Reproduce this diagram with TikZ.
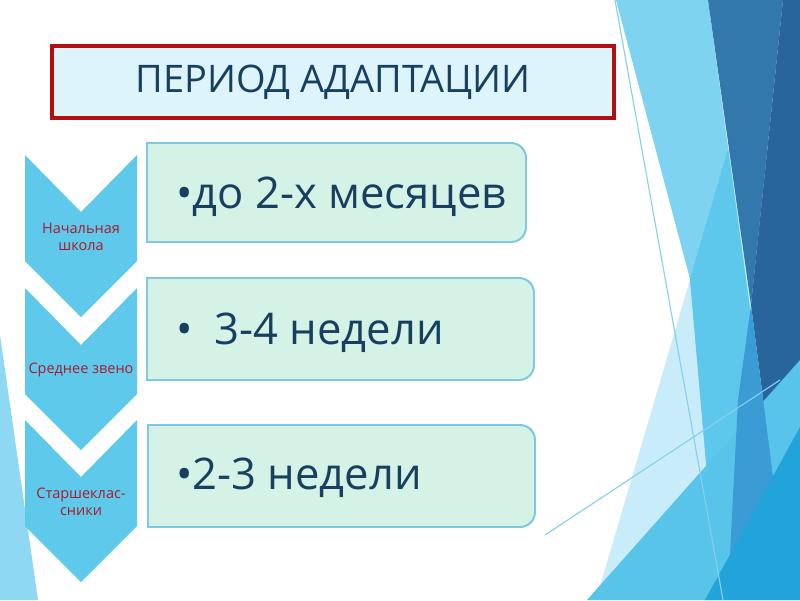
\documentclass[tikz,border=0pt]{standalone}
\usepackage{fontspec}
\setmainfont{Open Sans}
\usetikzlibrary{positioning}

\definecolor{chevblue}{HTML}{5FC9EC}
\definecolor{gradered}{HTML}{A81C2C}
\definecolor{navy}{HTML}{173F5F}
\definecolor{boxline}{HTML}{7FC8E2}
\definecolor{boxfill}{HTML}{D5F2E7}
\definecolor{titlefill}{HTML}{DDF4FB}
\definecolor{titleline}{HTML}{B30F12}
\definecolor{bgpale}{HTML}{C8ECF9}
\definecolor{bglight}{HTML}{7DD3F0}
\definecolor{bgmid}{HTML}{5EC7EC}
\definecolor{bgsteel}{HTML}{3378AA}
\definecolor{bgdark}{HTML}{27659A}
\definecolor{bgsky}{HTML}{58C4EA}
\definecolor{bgdeep}{HTML}{22A3DA}
\definecolor{bgcobalt}{HTML}{3B9BD4}
\definecolor{bgline}{HTML}{86D0EC}
\definecolor{bgleft}{HTML}{8FD8F3}

\tikzset{
    chevron/.style={fill=chevblue},
    grade/.style={text=gradered, font=\fontsize{10.3}{11.8}\selectfont, align=center, inner sep=0pt},
    stagebox/.style={draw=boxline, fill=boxfill, line width=1.4pt},
    stagetext/.style={text=navy, font=\fontsize{31}{34}\selectfont, inner sep=0pt},
    titlebox/.style={draw=titleline, fill=titlefill, line width=2.8pt, minimum width=14.05cm, minimum height=1.8cm, inner sep=0pt},
    titletext/.style={text=navy, font=\fontsize{27}{31}\selectfont, inner sep=0pt},
    facetline/.style={draw=bgline, line width=0.8pt}
}

\begin{document}
\begin{tikzpicture}[x=0.025cm, y=-0.025cm]
    \useasboundingbox (0,0) rectangle (800,600);
    \fill[white] (0,0) rectangle (800,600);

    % facets on the right
    \fill[bgpale] (728,150) -- (800,150) -- (800,600) -- (596,600) -- cycle;
    \fill[bglight] (616,0) -- (708,0) -- (773,477) -- (708,485) -- (690,279) -- cycle;
    \fill[bgmid] (728,149) -- (773,477) -- (708,485) -- (690,279) -- cycle;
    \fill[bgsteel] (708,0) -- (783,0) -- (751,305) -- cycle;
    \fill[bgdark] (783,0) -- (800,0) -- (800,427) -- (773,477) -- (751,305) -- cycle;
    \fill[bgsky] (587,600) -- (800,360) -- (800,600) -- cycle;
    \fill[bgcobalt] (751,305) -- (773,477) -- (730,555) -- (738,400) -- cycle;
    \fill[bgdeep] (800,427) -- (705,600) -- (800,600) -- cycle;
    \draw[facetline] (615,0) -- (723,600);
    \draw[facetline] (545,535) -- (780,380);
    \fill[bgleft] (0,335) -- (38,600) -- (0,600) -- cycle;

    % title
    \node[titlebox] (title) at (333,82) {};
    \node[titletext, anchor=base] (titlelbl) at (333,92) {ПЕРИОД АДАПТАЦИИ};

    % chevrons
    \foreach[count=\i] \t/\lbl in {155/{Начальная\\школа}, 288/{Среднее звено}, 420/{Старшеклас-\\сники}}
    {
        \fill[chevron] (25,\t) -- (81,\t+57) -- (137,\t) -- (137,\t+106) -- (81,\t+162) -- (25,\t+106) -- cycle;
        \node[grade] (g\i) at (81,\t+82) {\lbl};
    }

    % boxes, rounded on the right only
    \foreach \l/\t/\r/\b in {147/143/526/242, 147/278/534/380, 148/425/535/527}
    {
        \draw[stagebox] (\l,\t) -- (\r-15,\t) arc[start angle=-90, end angle=0, radius=15]
            -- (\r,\b-15) arc[start angle=0, end angle=90, radius=15] -- (\l,\b) -- cycle;
    }
    \node[stagetext, anchor=base west] (p1) at (176,208) {•до 2-х месяцев};
    \node[stagetext, anchor=base west] (p2) at (176,344) {•\hspace{0.5em}3-4 недели};
    \node[stagetext, anchor=base west] (p3) at (176,489) {•2-3 недели};

\end{tikzpicture}
\end{document}
